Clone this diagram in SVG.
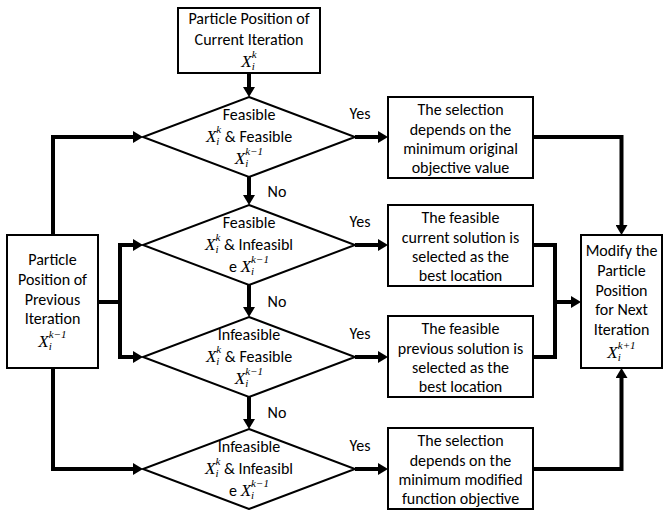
<svg xmlns="http://www.w3.org/2000/svg" width="664" height="510" viewBox="0 0 664 510">
<style>
.box{fill:#fff;stroke:#000;stroke-width:2}
.dia{fill:#fff;stroke:#000;stroke-width:2}
.con{fill:none;stroke:#000;stroke-width:4;stroke-linejoin:miter}
text{font-family:Carlito,Lato,"Liberation Sans",sans-serif;font-size:16px;fill:#000;text-anchor:middle}
.m{font-family:"Liberation Serif","DejaVu Serif",serif;font-style:italic;font-size:17px}
.s{font-family:"Liberation Serif","DejaVu Serif",serif;font-style:italic;font-size:11px}
</style>
<defs>
<marker id="ah" markerUnits="userSpaceOnUse" markerWidth="12" markerHeight="12" refX="2" refY="6" orient="auto">
<path d="M0,0 L10,6 L0,12 z" fill="#000"/>
</marker>
</defs>
<g id="connectors">
<path class="con" d="M249,73 V89" marker-end="url(#ah)"/>
<path class="con" d="M249,177 V197" marker-end="url(#ah)"/>
<path class="con" d="M249,285 V309" marker-end="url(#ah)"/>
<path class="con" d="M249,397 V421" marker-end="url(#ah)"/>
<path class="con" d="M355,137 H380" marker-end="url(#ah)"/>
<path class="con" d="M355,245 H380" marker-end="url(#ah)"/>
<path class="con" d="M355,357 H380" marker-end="url(#ah)"/>
<path class="con" d="M355,469 H380" marker-end="url(#ah)"/>
<path class="con" d="M53,235 V137 H135" marker-end="url(#ah)"/>
<path class="con" d="M53,368 V469 H135" marker-end="url(#ah)"/>
<path class="con" d="M98,302 H120 V245 H135" marker-end="url(#ah)"/>
<path class="con" d="M120,300 V357 H135" marker-end="url(#ah)"/>
<path class="con" d="M533,137 H621.5 V227" marker-end="url(#ah)"/>
<path class="con" d="M533,469 H621.5 V376" marker-end="url(#ah)"/>
<path class="con" d="M533,245 H555 V357 H533"/>
<path class="con" d="M555,302 H573" marker-end="url(#ah)"/>
<text x="277" y="197">No</text>
<text x="277" y="307">No</text>
<text x="277" y="418">No</text>
<text x="360" y="119">Yes</text>
<text x="360" y="227">Yes</text>
<text x="360" y="339">Yes</text>
<text x="360" y="451">Yes</text>
</g>
<g id="top">
<rect class="box" x="178" y="8" width="142" height="65"/>
<text x="249" y="24">Particle Position of</text>
<text x="249" y="45">Current Iteration</text>
<text x="249" y="67"><tspan class="m">X</tspan><tspan class="s" dy="3">i</tspan><tspan class="s" dx="-3" dy="-12">k</tspan></text>
</g>
<g id="d1">
<polygon class="dia" points="249,97 355,137 249,177 143,137"/>
<text x="249" y="120">Feasible</text>
<text x="249" y="142"><tspan class="m">X</tspan><tspan class="s" dy="3">i</tspan><tspan class="s" dx="-3" dy="-12">k</tspan><tspan dy="9"> &amp; Feasible</tspan></text>
<text x="249" y="164"><tspan class="m">X</tspan><tspan class="s" dy="3">i</tspan><tspan class="s" dx="-3" dy="-12">k−1</tspan></text>
</g>
<g id="d2">
<polygon class="dia" points="249,205 355,245 249,285 143,245"/>
<text x="249" y="228">Feasible</text>
<text x="249" y="250"><tspan class="m">X</tspan><tspan class="s" dy="3">i</tspan><tspan class="s" dx="-3" dy="-12">k</tspan><tspan dy="9"> &amp; Infeasibl</tspan></text>
<text x="249" y="272">e <tspan class="m">X</tspan><tspan class="s" dy="3">i</tspan><tspan class="s" dx="-3" dy="-12">k−1</tspan></text>
</g>
<g id="d3">
<polygon class="dia" points="249,317 355,357 249,397 143,357"/>
<text x="249" y="340">Infeasible</text>
<text x="249" y="362"><tspan class="m">X</tspan><tspan class="s" dy="3">i</tspan><tspan class="s" dx="-3" dy="-12">k</tspan><tspan dy="9"> &amp; Feasible</tspan></text>
<text x="249" y="384"><tspan class="m">X</tspan><tspan class="s" dy="3">i</tspan><tspan class="s" dx="-3" dy="-12">k−1</tspan></text>
</g>
<g id="d4">
<polygon class="dia" points="249,429 355,469 249,509 143,469"/>
<text x="249" y="452">Infeasible</text>
<text x="249" y="474"><tspan class="m">X</tspan><tspan class="s" dy="3">i</tspan><tspan class="s" dx="-3" dy="-12">k</tspan><tspan dy="9"> &amp; Infeasibl</tspan></text>
<text x="249" y="496">e <tspan class="m">X</tspan><tspan class="s" dy="3">i</tspan><tspan class="s" dx="-3" dy="-12">k−1</tspan></text>
</g>
<g id="b1">
<rect class="box" x="388" y="97" width="145" height="81"/>
<text x="460.5" y="115">The selection</text>
<text x="460.5" y="134.5">depends on the</text>
<text x="460.5" y="154">minimum original</text>
<text x="460.5" y="173">objective value</text>
</g>
<g id="b2">
<rect class="box" x="388" y="205" width="145" height="81"/>
<text x="460.5" y="223">The feasible</text>
<text x="460.5" y="242.5">current solution is</text>
<text x="460.5" y="262">selected as the</text>
<text x="460.5" y="281">best location</text>
</g>
<g id="b3">
<rect class="box" x="388" y="316" width="145" height="81"/>
<text x="460.5" y="334">The feasible</text>
<text x="460.5" y="353.5">previous solution is</text>
<text x="460.5" y="373">selected as the</text>
<text x="460.5" y="392">best location</text>
</g>
<g id="b4">
<rect class="box" x="388" y="428" width="145" height="81"/>
<text x="460.5" y="446">The selection</text>
<text x="460.5" y="465.5">depends on the</text>
<text x="460.5" y="485">minimum modified</text>
<text x="460.5" y="504">function objective</text>
</g>
<g id="left">
<rect class="box" x="7" y="235" width="91" height="133"/>
<text x="52.5" y="265">Particle</text>
<text x="52.5" y="285">Position of</text>
<text x="52.5" y="305">Previous</text>
<text x="52.5" y="324">Iteration</text>
<text x="52.5" y="347"><tspan class="m">X</tspan><tspan class="s" dy="3">i</tspan><tspan class="s" dx="-3" dy="-12">k−1</tspan></text>
</g>
<g id="right">
<rect class="box" x="581" y="235" width="81" height="133"/>
<text x="621.5" y="256">Modify the</text>
<text x="621.5" y="276">Particle</text>
<text x="621.5" y="296">Position</text>
<text x="621.5" y="315">for Next</text>
<text x="621.5" y="335">Iteration</text>
<text x="621.5" y="358"><tspan class="m">X</tspan><tspan class="s" dy="3">i</tspan><tspan class="s" dx="-3" dy="-12">k+1</tspan></text>
</g>
</svg>
